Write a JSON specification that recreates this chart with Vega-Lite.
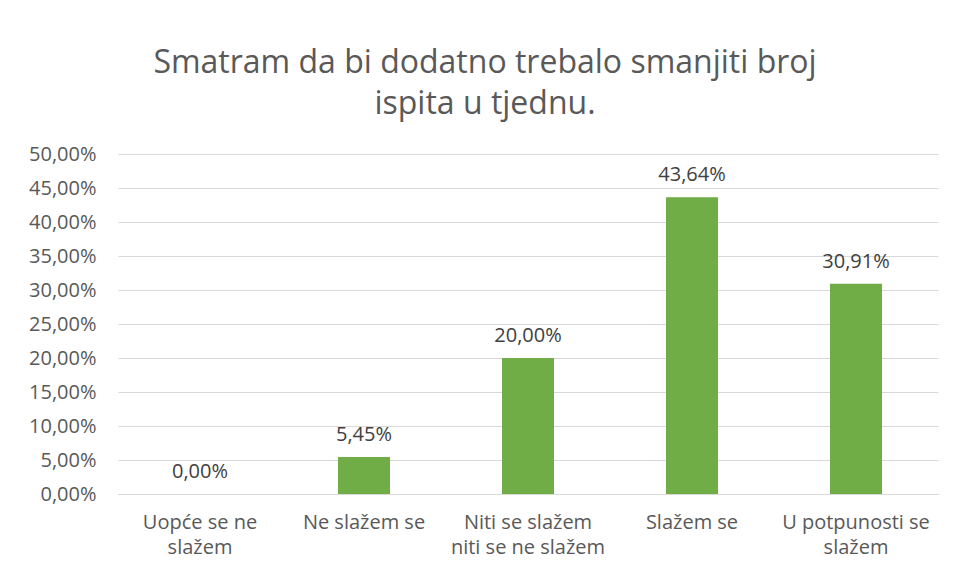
{
  "$schema": "https://vega.github.io/schema/vega-lite/v6.json",
  "width": 820,
  "height": 340,
  "autosize": {"type": "none"},
  "padding": {"left": 118, "top": 154, "right": 15, "bottom": 84},
  "background": "white",
  "title": {
    "text": ["Smatram da bi dodatno trebalo smanjiti broj", "ispita u tjednu."],
    "font": "Open Sans",
    "fontSize": 32,
    "fontWeight": "normal",
    "color": "#595959",
    "lineHeight": 41,
    "anchor": "middle",
    "dx": -43,
    "offset": 23
  },
  "config": {
    "locale": {"number": {"decimal": ",", "thousands": ".", "grouping": [3], "currency": ["", " €"]}},
    "view": {"stroke": null},
    "font": "Open Sans"
  },
  "data": {
    "values": [
      {"kategorija": "Uopće se ne slažem", "udio": 0.0},
      {"kategorija": "Ne slažem se", "udio": 0.0545},
      {"kategorija": "Niti se slažem niti se ne slažem", "udio": 0.2},
      {"kategorija": "Slažem se", "udio": 0.4364},
      {"kategorija": "U potpunosti se slažem", "udio": 0.3091}
    ]
  },
  "encoding": {
    "x": {
      "field": "kategorija",
      "type": "nominal",
      "sort": null,
      "scale": {"paddingInner": 0.683, "paddingOuter": 0.3415},
      "axis": {
        "title": null,
        "labelAngle": 0,
        "labelFont": "Open Sans",
        "labelFontSize": 20,
        "labelColor": "#595959",
        "labelPadding": 18,
        "labelLineHeight": 25,
        "labelLimit": 300,
        "ticks": false,
        "domainColor": "#D9D9D9",
        "labelExpr": "datum.value == 'Uopće se ne slažem' ? ['Uopće se ne', 'slažem'] : datum.value == 'Niti se slažem niti se ne slažem' ? ['Niti se slažem', 'niti se ne slažem'] : datum.value == 'U potpunosti se slažem' ? ['U potpunosti se', 'slažem'] : datum.value"
      }
    },
    "y": {
      "field": "udio",
      "type": "quantitative",
      "scale": {"domain": [0, 0.5], "nice": false},
      "axis": {
        "title": null,
        "format": ".2%",
        "values": [0, 0.05, 0.1, 0.15, 0.2, 0.25, 0.3, 0.35, 0.4, 0.45, 0.5],
        "labelFont": "Open Sans",
        "labelFontSize": 20,
        "labelColor": "#595959",
        "labelPadding": 22,
        "ticks": false,
        "domain": false,
        "gridColor": "#D9D9D9",
        "gridWidth": 1
      }
    }
  },
  "layer": [
    {"mark": {"type": "bar", "color": "#70AD47"}},
    {
      "mark": {"type": "text", "baseline": "bottom", "dy": -12, "font": "Open Sans", "fontSize": 20, "color": "#404040"},
      "encoding": {"text": {"field": "udio", "type": "quantitative", "format": ".2%"}}
    }
  ]
}
